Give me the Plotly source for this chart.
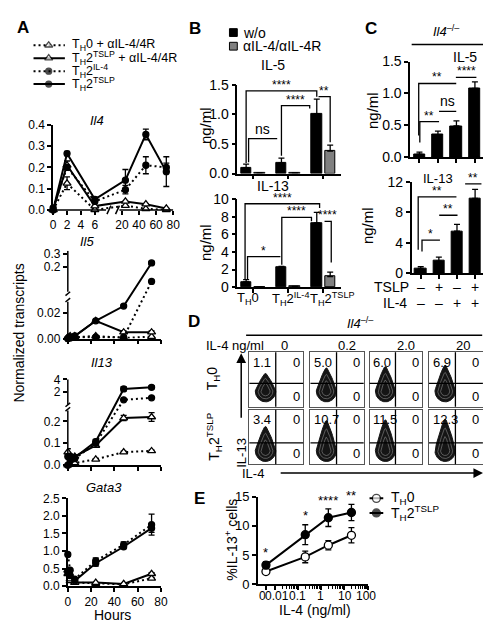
import math
import plotly.graph_objects as go

W, H = 491, 626
FONT = "Arial, Liberation Sans, Helvetica, sans-serif"

# ===================== DATA =====================
# ---- Panel A : normalized transcripts ----
hours = [0, 2, 6, 24, 48, 72]
a_labels = ["T<sub>H</sub>0 + αIL-4/4R", "T<sub>H</sub>2<sup>TSLP</sup> + αIL-4/4R",
            "T<sub>H</sub>2<sup>IL-4</sup>", "T<sub>H</sub>2<sup>TSLP</sup>"]

il4_th0a = [0.0, 0.125, 0.0, 0.02, 0.005, 0.0]
il4_tslpa = [0.0, 0.21, 0.018, 0.04, 0.027, 0.007]
il4_il4 = [0.01, 0.20, 0.04, 0.095, 0.21, 0.20]
il4_tslp = [0.0, 0.265, 0.05, 0.14, 0.355, 0.18]
il4_err_th0a = [0, 0.03, 0, 0, 0, 0]
il4_err_tslpa = [0, 0.02, 0, 0, 0, 0]
il4_err_il4 = [0, 0.01, 0, 0.02, 0.04, 0.02]
il4_err_tslp = [0, 0.01, 0.01, 0.05, 0.025, 0.07]

il5_th0a = [0.001, 0.001, 0.001, 0.002, 0.0005, 0.0015]
il5_tslpa = [0.001, 0.002, 0.002, 0.014, 0.005, 0.005]
il5_il4 = [0.0, 0.0005, 0.001, 0.001, 0.001, 0.087]
il5_tslp = [0.0, 0.001, 0.002, 0.014, 0.0256, 0.23]
il5_err_th0a = [0, 0, 0, 0, 0, 0]
il5_err_tslpa = [0, 0, 0, 0.001, 0.001, 0.001]
il5_err_il4 = [0, 0, 0, 0, 0, 0]
il5_err_tslp = [0, 0, 0, 0, 0.001, 0.012]

il13_th0a = [0.0, 0.005, 0.01, 0.027, 0.06, 0.065]
il13_tslpa = [0.06, 0.04, 0.04, 0.09, 0.215, 0.22]
il13_il4 = [0.0, 0.02, 0.03, 0.10, 0.77, 1.1]
il13_tslp = [0.04, 0.04, 0.035, 0.108, 2.5, 2.75]
il13_err_th0a = [0, 0, 0, 0.003, 0.004, 0.004]
il13_err_tslpa = [0.015, 0.01, 0, 0.005, 0.012, 0.02]
il13_err_il4 = [0, 0, 0, 0, 0.05, 0.05]
il13_err_tslp = [0, 0, 0, 0.01, 0.35, 0.25]

g3_th0a = [0.35, 0.15, 0.10, 0.07, 0.05, 0.22]
g3_tslpa = [0.45, 0.20, 0.10, 0.10, 0.06, 0.35]
g3_il4 = [0.90, 0.45, 0.20, 0.72, 1.18, 1.75]
g3_tslp = [0.40, 0.30, 0.15, 0.65, 1.12, 1.65]
g3_err_th0a = [0, 0, 0, 0, 0, 0.02]
g3_err_tslpa = [0.03, 0, 0, 0, 0, 0.03]
g3_err_il4 = [0.05, 0, 0, 0.08, 0.08, 0.30]
g3_err_tslp = [0, 0, 0, 0.08, 0.05, 0.12]

# ---- Panel B : cytokine secretion ----
b_groups = ["T<sub>H</sub>0", "T<sub>H</sub>2<sup>IL-4</sup>", "T<sub>H</sub>2<sup>TSLP</sup>"]
b_series = ["w/o", "αIL-4/αIL-4R"]
b_il5_wo = [0.10, 0.18, 1.01]
b_il5_wo_err = [0.06, 0.08, 0.25]
b_il5_ab = [0.01, 0.01, 0.38]
b_il5_ab_err = [0.005, 0.005, 0.10]
b_il13_wo = [0.6, 2.3, 7.3]
b_il13_wo_err = [0.25, 0.05, 1.2]
b_il13_ab = [0.05, 0.08, 1.2]
b_il13_ab_err = [0.02, 0.02, 0.5]

# ---- Panel C : Il4-/- cells ----
c_tslp = ["–", "+", "–", "+"]
c_il4 = ["–", "–", "+", "+"]
c_il5 = [0.05, 0.35, 0.49, 1.08]
c_il5_err = [0.03, 0.06, 0.08, 0.10]
c_il13 = [0.6, 1.6, 5.5, 9.8]
c_il13_err = [0.25, 0.5, 0.9, 1.2]

# ---- Panel D : flow cytometry quadrant percentages ----
d_conc = ["0", "0.2", "2.0", "20"]
d_rows = ["T<sub>H</sub>0", "T<sub>H</sub>2<sup>TSLP</sup>"]
d_pct_th0 = [1.1, 5.0, 6.0, 6.9]
d_pct_tslp = [3.4, 10.7, 11.5, 12.3]

# ---- Panel E : %IL-13+ cells ----
e_il4 = [0, 0.2, 2, 20]
e_th0 = [2.2, 4.7, 6.7, 8.4]
e_th0_err = [0.5, 1.0, 0.8, 1.3]
e_tslp = [3.3, 8.5, 11.4, 12.3]
e_tslp_err = [0.6, 1.7, 1.5, 1.4]
e_stars = ["*", "*", "****", "**"]
e_ticklabels = ["0", "0.01", "0.1", "1", "10", "100"]

# ===================== HELPERS =====================
traces, shapes, annotations = [], [], []
layout = {}
ax_n = [0]

BASE = dict(showgrid=False, zeroline=False, showline=True, linecolor="black",
            linewidth=1.5, ticks="outside", ticklen=4, tickwidth=1.5,
            tickcolor="black", fixedrange=True, tickangle=0,
            tickfont=dict(family=FONT, size=12, color="black"))


def make_axes(xpx, ypx, xkw=None, ykw=None):
    ax_n[0] += 1
    s = "" if ax_n[0] == 1 else str(ax_n[0])
    xb = dict(BASE)
    xb.update(xkw or {})
    yb = dict(BASE)
    yb.update(ykw or {})
    xb.update(domain=[xpx[0] / W, xpx[1] / W], anchor="y" + s)
    yb.update(domain=[1 - ypx[1] / H, 1 - ypx[0] / H], anchor="x" + s)
    layout["xaxis" + s] = xb
    layout["yaxis" + s] = yb
    return "x" + s, "y" + s


def ann(text, xpx, ypx, size=12, **kw):
    d = dict(x=xpx / W, y=1 - ypx / H, xref="paper", yref="paper", text=text,
             showarrow=False, font=dict(family=FONT, size=size, color="black"),
             xanchor="center", yanchor="middle")
    d.update(kw)
    annotations.append(d)


def line_shape(x0, y0, x1, y1, xref="paper", yref="paper", w=1.5, color="black"):
    if xref == "paper":
        x0, x1 = x0 / W, x1 / W
    if yref == "paper":
        y0, y1 = 1 - y0 / H, 1 - y1 / H
    shapes.append(dict(type="line", x0=x0, y0=y0, x1=x1, y1=y1, xref=xref,
                       yref=yref, line=dict(color=color, width=w)))


A_STYLE = [
    dict(dash="2px,3px", symbol="triangle-up", fill="white", size=7),
    dict(dash="solid", symbol="triangle-up", fill="white", size=7),
    dict(dash="2px,3px", symbol="circle", fill="black", size=6),
    dict(dash="solid", symbol="circle", fill="black", size=6),
]


def ident(v):
    return v


def a_trace(xs, ys, errs, st, xa, ya, tx=ident, ty=ident):
    X = [tx(v) for v in xs]
    Y = [ty(v) for v in ys]
    ep = [ty(v + e) - ty(v) for v, e in zip(ys, errs)]
    em = [ty(v) - ty(max(v - e, 0)) for v, e in zip(ys, errs)]
    traces.append(go.Scatter(
        x=X, y=Y, xaxis=xa, yaxis=ya, mode="lines+markers",
        line=dict(color="black", width=2, dash=st["dash"]),
        marker=dict(symbol=st["symbol"], size=st["size"], color=st["fill"],
                    line=dict(color="black", width=1.3)),
        error_y=dict(type="data", symmetric=False, array=ep, arrayminus=em,
                     color="black", thickness=1.3, width=3),
        cliponaxis=False, showlegend=False, hoverinfo="skip"))


# ===================== PANEL A =====================
ann("<b>A</b>", 12, 12, 17)

# legend
xa, ya = make_axes([0, 170], [20, 80], dict(visible=False, range=[0, 170]),
                   dict(visible=False, range=[80, 20]))
for i, (lab, st) in enumerate(zip(a_labels, A_STYLE)):
    yrow = 30 + i * 13.3
    traces.append(go.Scatter(
        x=[23, 38.5, 55], y=[yrow] * 3, xaxis=xa, yaxis=ya, mode="lines+markers",
        line=dict(color="black", width=2, dash=st["dash"]),
        marker=dict(symbol=st["symbol"], size=[0, st["size"], 0], color=st["fill"],
                    line=dict(color="black", width=[0, 1.3, 0])),
        showlegend=False, hoverinfo="skip", cliponaxis=False))
    ann(lab, 60, yrow, 12.5, xanchor="left")

# --- Il4 (broken x axis) ---
def tx_il4(v):
    return v * 7.1 if v <= 7.6 else 70.3 + (v - 20) * 0.87


xa, ya = make_axes(
    [43, 166], [111.7, 199],
    dict(range=[0, 123], showline=False,
         tickvals=[tx_il4(v) for v in [0, 2, 4, 6, 20, 40, 60, 80]],
         ticktext=["0", "2", "4", "6", "20", "40", "60", "80"]),
    dict(range=[0, 0.4], tickvals=[0, 0.1, 0.2, 0.3, 0.4],
         ticktext=["0.0", "0.1", "0.2", "0.3", "0.4"]))
for ys, es, st in zip([il4_th0a, il4_tslpa, il4_il4, il4_tslp],
                      [il4_err_th0a, il4_err_tslpa, il4_err_il4, il4_err_tslp], A_STYLE):
    a_trace(hours, ys, es, st, xa, ya, tx=tx_il4)
line_shape(0, 0, tx_il4(7.6), 0, xref=xa, yref=ya + " domain")
line_shape(tx_il4(17), 0, tx_il4(80), 0, xref=xa, yref=ya + " domain")
for c in [tx_il4(7.6) + 3, tx_il4(17) - 2]:
    line_shape(c - 2, -0.05, c + 2, 0.05, xref=xa, yref=ya + " domain")
ann("<i>Il4</i>", 88, 107, 13)

# --- Il5 (broken y axis) ---
def ty_il5(v):
    return v * 1300 if v <= 0.03 else 51 + (v - 0.03) * 133


xa, ya = make_axes(
    [58, 153], [241, 331],
    dict(range=[0, 80], tickvals=[0, 20, 40, 60, 80], showticklabels=False),
    dict(range=[0, 90], showline=False,
         tickvals=[ty_il5(v) for v in [0, 0.02, 0.2, 0.3]],
         ticktext=["0.00", "0.02", "0.2", "0.3"]))
for ys, es, st in zip([il5_th0a, il5_tslpa, il5_il4, il5_tslp],
                      [il5_err_th0a, il5_err_tslpa, il5_err_il4, il5_err_tslp], A_STYLE):
    a_trace(hours, ys, es, st, xa, ya, ty=ty_il5)
line_shape(0, 0, 0, ty_il5(0.029), xref=xa + " domain", yref=ya)
line_shape(0, 48, 0, 90, xref=xa + " domain", yref=ya)
for c in [39.5, 46]:
    line_shape(-0.025, c - 2, 0.025, c + 2, xref=xa + " domain", yref=ya)
ann("<i>Il5</i>", 78, 231, 13)

# --- Il13 (broken y axis) ---
def ty_il13(v):
    return v * 225 if v <= 0.26 else 64 + (v - 0.3) * 6.5


xa, ya = make_axes(
    [58, 153], [372, 461],
    dict(range=[0, 80], tickvals=[0, 20, 40, 60, 80], showticklabels=False),
    dict(range=[0, 89], showline=False,
         tickvals=[ty_il13(v) for v in [0, 0.1, 0.2, 2, 4]],
         ticktext=["0.0", "0.1", "0.2", "2", "4"]))
for ys, es, st in zip([il13_th0a, il13_tslpa, il13_il4, il13_tslp],
                      [il13_err_th0a, il13_err_tslpa, il13_err_il4, il13_err_tslp], A_STYLE):
    a_trace(hours, ys, es, st, xa, ya, ty=ty_il13)
line_shape(0, 0, 0, ty_il13(0.25), xref=xa + " domain", yref=ya)
line_shape(0, 62, 0, ty_il13(4), xref=xa + " domain", yref=ya)
for c in [57.5, 62]:
    line_shape(-0.025, c - 2, 0.025, c + 2, xref=xa + " domain", yref=ya)
ann("<i>Il13</i>", 93, 356, 13)

# --- Gata3 ---
xa, ya = make_axes(
    [58, 153], [495, 585],
    dict(range=[0, 80], tickvals=[0, 20, 40, 60, 80]),
    dict(range=[0, 2.5], tickvals=[0, 0.5, 1, 1.5, 2, 2.5],
         ticktext=["0.0", "0.5", "1.0", "1.5", "2.0", "2.5"]))
for ys, es, st in zip([g3_th0a, g3_tslpa, g3_il4, g3_tslp],
                      [g3_err_th0a, g3_err_tslpa, g3_err_il4, g3_err_tslp], A_STYLE):
    a_trace(hours, ys, es, st, xa, ya)
ann("<i>Gata3</i>", 95, 484, 13)
ann("Hours", 104, 615, 14)
ann("Normalized transcripts", 8, 325, 14, textangle=-90)

# ===================== PANEL B =====================
ann("<b>B</b>", 188, 13, 17)
shapes.append(dict(type="rect", x0=223 / W, x1=231 / W, y0=1 - 21 / H, y1=1 - 13 / H,
                   xref="paper", yref="paper", fillcolor="black", line=dict(color="black", width=1)))
shapes.append(dict(type="rect", x0=223 / W, x1=231 / W, y0=1 - 35 / H, y1=1 - 27 / H,
                   xref="paper", yref="paper", fillcolor="#808080", line=dict(color="black", width=1)))
ann(b_series[0], 235, 17, 14, xanchor="left")
ann(b_series[1], 235, 31, 14, xanchor="left")

BIGTICK = dict(family=FONT, size=14, color="black")


def add_brackets(xa, ya, brs, size=12):
    for x1, x2, y, l1, l2, txt in brs:
        shapes.append(dict(type="path", xref=xa, yref=ya,
                           path=f"M {x1},{l1} L {x1},{y} L {x2},{y} L {x2},{l2}",
                           line=dict(color="black", width=1.3)))
        annotations.append(dict(x=(x1 + x2) / 2, y=y, xref=xa, yref=ya, text=txt,
                                showarrow=False, yanchor="bottom", yshift=-3 if "*" in txt else 0,
                                font=dict(family=FONT, size=size if "*" in txt else 14, color="black")))


def b_bars(xa, ya, wo, wo_e, ab, ab_e):
    for vals, errs, col, off in [(wo, wo_e, "black", -0.19), (ab, ab_e, "#808080", 0.19)]:
        traces.append(go.Bar(
            x=[i + off for i in range(len(vals))], y=vals, width=0.3, xaxis=xa, yaxis=ya,
            marker=dict(color=col, line=dict(color="black", width=1)),
            error_y=dict(type="data", symmetric=False, array=errs, arrayminus=[0] * len(errs),
                         color="black", thickness=1.3, width=3),
            showlegend=False, hoverinfo="skip", cliponaxis=False))


xa, ya = make_axes(
    [231, 337], [70.7, 161.7],
    dict(range=[-0.44, 2.5], tickvals=[0, 1, 2], showticklabels=False),
    dict(range=[0, 1.5], tickvals=[0, 0.5, 1, 1.5], ticktext=["0.0", "0.5", "1.0", "1.5"],
         tickfont=BIGTICK))
b_bars(xa, ya, b_il5_wo, b_il5_wo_err, b_il5_ab, b_il5_ab_err)
add_brackets(xa, ya, [(-0.19, 1.81, 1.40, 0.18, 1.30, "****"),
                      (0.81, 1.61, 1.15, 0.30, 1.10, "****"),
                      (1.86, 2.19, 1.30, 1.30, 0.53, "**"),
                      (-0.12, 0.69, 0.59, 0.19, 0.59, "ns")])
ann("IL-5", 267, 50, 14)
ann("ng/ml", 198, 112, 15, textangle=-90)

xa, ya = make_axes(
    [231, 337], [188, 278.3],
    dict(range=[-0.44, 2.5], tickvals=[0, 1, 2], showticklabels=False),
    dict(range=[0, 10], tickvals=[0, 2, 4, 6, 8, 10], tickfont=BIGTICK))
b_bars(xa, ya, b_il13_wo, b_il13_wo_err, b_il13_ab, b_il13_ab_err)
add_brackets(xa, ya, [(-0.22, 1.89, 9.48, 0.92, 9.0, "****"),
                      (0.82, 1.66, 7.93, 2.55, 7.5, "****"),
                      (2.03, 2.22, 7.49, 7.49, 2.8, "****"),
                      (-0.15, 0.78, 3.47, 0.92, 3.47, "*")])
for lab, xp in zip(b_groups, [242, 285, 328]):
    ann(lab, xp, 290, 13)
ann("IL-13", 267, 174, 14)
ann("ng/ml", 198, 232, 15, textangle=-90)

# ===================== PANEL C =====================
ann("<b>C</b>", 367, 13, 17)
ann("<i>Il4</i><sup>–/–</sup>", 445, 15, 13)
line_shape(409, 29.3, 489, 29.3)


def c_bars(xa, ya, vals, errs):
    traces.append(go.Bar(
        x=list(range(len(vals))), y=vals, width=0.62, xaxis=xa, yaxis=ya,
        marker=dict(color="black", line=dict(color="black", width=1)),
        error_y=dict(type="data", symmetric=False, array=errs, arrayminus=[0] * len(errs),
                     color="black", thickness=1.3, width=3),
        showlegend=False, hoverinfo="skip", cliponaxis=False))


xa, ya = make_axes(
    [407.5, 483], [46.7, 145],
    dict(range=[-0.5, 3.5], tickvals=[0, 1, 2, 3], showticklabels=False),
    dict(range=[0, 1.5], tickvals=[0, 0.5, 1, 1.5], ticktext=["0.0", "0.5", "1.0", "1.5"],
         tickfont=BIGTICK))
c_bars(xa, ya, c_il5, c_il5_err)
add_brackets(xa, ya, [(-0.04, 1.99, 1.156, 0.34, 1.156, "**"),
                      (1.97, 3.08, 1.25, 1.25, 1.25, "****"),
                      (1.06, 1.99, 0.72, 0.72, 0.72, "ns"),
                      (0.02, 1.06, 0.56, 0.23, 0.56, "**")])
ann("IL-5", 463, 42, 14)
ann("ng/ml", 369, 97, 15, textangle=-90)

xa, ya = make_axes(
    [409, 483], [170, 264],
    dict(range=[-0.5, 3.5], tickvals=[0, 1, 2, 3], showticklabels=False),
    dict(range=[0, 12], tickvals=[0, 4, 8, 12], tickfont=BIGTICK))
c_bars(xa, ya, c_il13, c_il13_err)
add_brackets(xa, ya, [(-0.14, 1.97, 10.0, 3.07, 10.0, "**"),
                      (1.02, 2.03, 7.6, 7.6, 7.6, "**"),
                      (0.07, 1.06, 4.34, 2.85, 4.34, "*"),
                      (2.45, 3.35, 11.7, 11.7, 11.7, "**")])
ann("IL-13", 436, 167, 13)
ann("ng/ml", 364, 215, 15, textangle=-90)
ann("TSLP", 408, 278, 14, xanchor="right")
ann("IL-4", 406, 295, 14, xanchor="right")
for i, (s1, s2) in enumerate(zip(c_tslp, c_il4)):
    annotations.append(dict(x=i, y=1 - 278 / H, xref=xa, yref="paper", text=s1, showarrow=False,
                            font=dict(family=FONT, size=14, color="black")))
    annotations.append(dict(x=i, y=1 - 295 / H, xref=xa, yref="paper", text=s2, showarrow=False,
                            font=dict(family=FONT, size=14, color="black")))

# ===================== PANEL D =====================
ann("<b>D</b>", 187, 314, 17)
ann("<i>Il4</i><sup>–/–</sup>", 357, 315, 13)
line_shape(240, 327.7, 481, 327.7)
ann("IL-4 ng/ml", 229, 338, 13)
for lab, xp in zip(d_conc, [279, 342.7, 403.3, 461.7]):
    ann(lab, xp, 338, 13)

D_COLS = [(243.3, 298.3), (305.7, 360), (366, 420), (426.7, 481.7)]
D_ROWS = [(345, 401), (404, 460)]
D_HLINE = [0.43, 0.39]


def blob_xy(cx, cy, rx, ry, top, k):
    xs, ys = [], []
    for i in range(73):
        t = 2 * math.pi * i / 72
        s, c = math.sin(t), math.cos(t)
        if s >= 0:
            ys.append(cy + (top - cy) * k * s)
            xs.append(cx + rx * k * c * (1 - 0.6 * s))
        else:
            ys.append(cy + ry * k * s)
            xs.append(cx + rx * k * c)
    return xs, ys


for r, pcts in enumerate([d_pct_th0, d_pct_tslp]):
    for c, pct in enumerate(pcts):
        xa, ya = make_axes(D_COLS[c], D_ROWS[r],
                           dict(range=[0, 1], showticklabels=False, ticks="", mirror=True,
                                linecolor="#555", linewidth=1),
                           dict(range=[0, 1], showticklabels=False, ticks="", mirror=True,
                                linecolor="#555", linewidth=1))
        cy = 0.29 if r == 0 else 0.25
        top = (0.58 + 0.026 * pct) if r == 0 else (0.64 + 0.015 * pct)
        bx, by = blob_xy(0.3, cy, 0.19, 0.2, top, 1.0)
        traces.append(go.Scatter(x=bx, y=by, xaxis=xa, yaxis=ya, mode="lines", fill="toself",
                                 fillcolor="#151515", line=dict(color="#151515", width=1),
                                 showlegend=False, hoverinfo="skip"))
        for k in [0.72, 0.45]:
            bx, by = blob_xy(0.3, cy, 0.19, 0.2, top, k)
            traces.append(go.Scatter(x=bx, y=by, xaxis=xa, yaxis=ya, mode="lines",
                                     line=dict(color="#8a8a8a", width=0.6),
                                     showlegend=False, hoverinfo="skip"))
        line_shape(0.49, 0, 0.49, 1, xref=xa + " domain", yref=ya + " domain", w=1.3)
        line_shape(0, D_HLINE[r], 1, D_HLINE[r], xref=xa + " domain", yref=ya + " domain", w=1.3)
        f = dict(family=FONT, size=13, color="black")
        annotations.append(dict(x=0.03, y=0.99, xref=xa + " domain", yref=ya + " domain",
                                text=f"{pct}", showarrow=False, xanchor="left", yanchor="top", font=f))
        annotations.append(dict(x=0.97, y=0.99, xref=xa + " domain", yref=ya + " domain",
                                text="0", showarrow=False, xanchor="right", yanchor="top", font=f))
        annotations.append(dict(x=0.97, y=0.19, xref=xa + " domain", yref=ya + " domain",
                                text="0", showarrow=False, xanchor="right", yanchor="middle", font=f))

ann(d_rows[0], 207, 372, 14, textangle=-90)
ann(d_rows[1], 207, 432, 14, textangle=-90)
annotations.append(dict(x=235 / W, y=1 - 346 / H, xref="paper", yref="paper", ax=0, ay=66,
                        axref="pixel", ayref="pixel", text="", showarrow=True,
                        arrowhead=2, arrowsize=1.3, arrowwidth=1.5, arrowcolor="black"))
ann("IL-13", 235, 448, 13, textangle=-90)
annotations.append(dict(x=482 / W, y=1 - 469 / H, xref="paper", yref="paper", ax=-204, ay=0,
                        axref="pixel", ayref="pixel", text="", showarrow=True,
                        arrowhead=2, arrowsize=1.3, arrowwidth=1.5, arrowcolor="black"))
ann("IL-4", 247, 470, 13)

# ===================== PANEL E =====================
ann("<b>E</b>", 192, 495, 17)
ZERO_POS = 10 ** -2.4
ex = [ZERO_POS if v == 0 else v for v in e_il4]
minor_vals = [k * 10 ** e for e in range(-2, 2) for k in range(2, 10)]
xa, ya = make_axes(
    [252, 364], [493.3, 583.3],
    dict(type="log", range=[-2.75, 2.0],
         tickvals=[ZERO_POS, 0.01, 0.1, 1, 10, 100], showticklabels=False,
         minor=dict(tickmode="array", tickvals=minor_vals, ticks="outside",
                    ticklen=2.5, tickwidth=1, tickcolor="black")),
    dict(range=[0, 15], tickvals=[0, 5, 10, 15],
         tickfont=dict(family=FONT, size=13, color="black")))
for ys, es, fillc in [(e_th0, e_th0_err, "white"), (e_tslp, e_tslp_err, "black")]:
    traces.append(go.Scatter(
        x=ex, y=ys, xaxis=xa, yaxis=ya, mode="lines+markers",
        line=dict(color="black", width=2),
        marker=dict(symbol="circle", size=8, color=fillc, line=dict(color="black", width=1.3)),
        error_y=dict(type="data", array=es, color="black", thickness=1.3, width=3),
        cliponaxis=False, showlegend=False, hoverinfo="skip"))
for xv, yv, ev, s in zip(ex, e_tslp, e_tslp_err, e_stars):
    annotations.append(dict(x=math.log10(xv), y=yv + ev + 0.4, xref=xa, yref=ya, text=s,
                            showarrow=False, yanchor="bottom", yshift=-3,
                            font=dict(family=FONT, size=13, color="black")))
for lab, xp in zip(e_ticklabels, [256.7, 271.5, 292, 316, 341, 362]):
    ann(lab, xp, 595, 12)
ann("%IL-13<sup>+</sup> cells", 225, 537, 14, textangle=-90)
ann("IL-4 (ng/ml)", 310, 610, 14)

# legend E
xa, ya = make_axes([355, 480], [485, 520], dict(visible=False, range=[355, 480]),
                   dict(visible=False, range=[520, 485]))
for yrow, fillc, lab in [(495, "white", "T<sub>H</sub>0"),
                         (510, "black", "T<sub>H</sub>2<sup>TSLP</sup>")]:
    traces.append(go.Scatter(
        x=[366, 373, 380], y=[yrow] * 3, xaxis=xa, yaxis=ya, mode="lines+markers",
        line=dict(color="black", width=2),
        marker=dict(symbol="circle", size=[0, 8, 0], color=fillc,
                    line=dict(color="black", width=[0, 1.3, 0])),
        showlegend=False, hoverinfo="skip", cliponaxis=False))
    ann(lab, 386, yrow, 14, xanchor="left")

# ===================== FIGURE =====================
fig = go.Figure(data=traces)
fig.update_layout(**layout)
fig.update_layout(width=W, height=H, autosize=False,
                  margin=dict(l=0, r=0, t=0, b=0),
                  plot_bgcolor="white", paper_bgcolor="white",
                  font=dict(family=FONT, color="black"),
                  shapes=shapes, annotations=annotations, showlegend=False,
                  bargap=0)
fig.write_html("out.html")
